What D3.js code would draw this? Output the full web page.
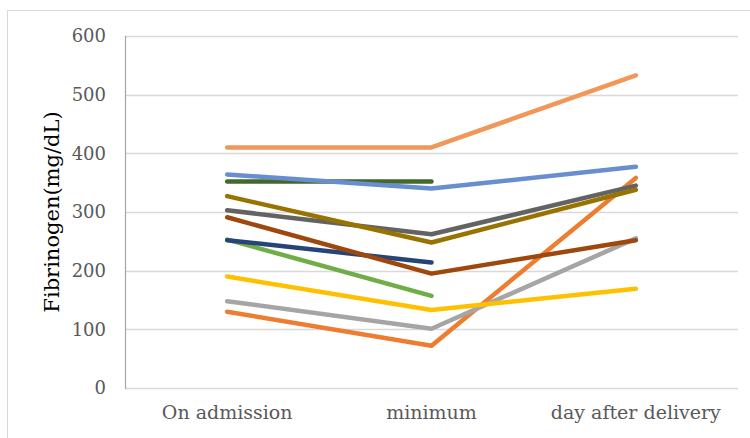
<!DOCTYPE html>
<html>
<head>
<meta charset="utf-8">
<script src="https://cdn.jsdelivr.net/npm/d3@7/dist/d3.min.js"></script>
<style>
  html, body { margin: 0; padding: 0; background: #fff; }
  svg { display: block; }
</style>
</head>
<body>
<svg id="chart" width="750" height="438"></svg>
<script>
// Time points on the x axis
const categories = ["On admission", "minimum", "day after delivery"];

// Fibrinogen per patient (mg/dL); null = not measured
const patient1  = [130, 72, 358];
const patient2  = [148, 101, 255];
const patient3  = [190, 133, 169];
const patient4  = [253, 157, null];
const patient5  = [252, 214, null];
const patient6  = [291, 195, 252];
const patient7  = [303, 262, 345];
const patient8  = [327, 248, 338];
const patient9  = [352, 352, null];
const patient10 = [364, 340, 377];
const patient11 = [410, 410, 533];

const yTicks = [0, 100, 200, 300, 400, 500, 600];

const series = [
  { values: patient1,  color: "#ED7D31" },
  { values: patient2,  color: "#A5A5A5" },
  { values: patient3,  color: "#FFC000" },
  { values: patient4,  color: "#70AD47" },
  { values: patient5,  color: "#264478" },
  { values: patient6,  color: "#9E480E" },
  { values: patient7,  color: "#636363" },
  { values: patient8,  color: "#997300" },
  { values: patient9,  color: "#43682B" },
  { values: patient10, color: "#698ED0" },
  { values: patient11, color: "#F1975A" }
];

const svg = d3.select("#chart");

// outer chart frame
svg.append("rect")
  .attr("x", 7.5).attr("y", 10.5)
  .attr("width", 760).attr("height", 450)
  .attr("fill", "#fff").attr("stroke", "#d9d9d9").attr("stroke-width", 1);

const plot = { left: 125, right: 738, top: 36, bottom: 388 };

const x = d3.scaleBand().domain(categories).range([plot.left, plot.right]);
const y = d3.scaleLinear().domain([0, 600]).range([plot.bottom, plot.top]);

// horizontal gridlines
svg.append("g")
  .selectAll("line")
  .data(yTicks)
  .join("line")
  .attr("x1", plot.left).attr("x2", plot.right)
  .attr("y1", d => Math.round(y(d)) + 0.5).attr("y2", d => Math.round(y(d)) + 0.5)
  .attr("stroke", "#d9d9d9").attr("stroke-width", 1.5);

// left axis line
svg.append("line")
  .attr("x1", plot.left + 0.5).attr("x2", plot.left + 0.5)
  .attr("y1", plot.top).attr("y2", plot.bottom + 1)
  .attr("stroke", "#a6a6a6").attr("stroke-width", 1.2);

// y tick labels
const yAxis = d3.axisLeft(y).tickValues(yTicks).tickSize(0).tickPadding(19);
const gy = svg.append("g").attr("transform", `translate(${plot.left},0)`).call(yAxis);
gy.select(".domain").remove();
gy.selectAll("text")
  .attr("font-family", "'DejaVu Serif', serif")
  .attr("font-size", 18)
  .attr("fill", "#595959");

// x category labels
const xAxis = d3.axisBottom(x).tickSize(0).tickPadding(18);
const gx = svg.append("g").attr("transform", `translate(0,${plot.bottom})`).call(xAxis);
gx.select(".domain").remove();
gx.selectAll("text")
  .attr("font-family", "'DejaVu Serif', serif")
  .attr("font-size", 19)
  .attr("fill", "#595959");

// y axis title
svg.append("text")
  .attr("transform", `translate(52,${(plot.top + plot.bottom) / 2}) rotate(-90)`)
  .attr("text-anchor", "middle")
  .attr("dominant-baseline", "central")
  .attr("font-family", "'DejaVu Serif', serif")
  .attr("font-size", 21)
  .attr("fill", "#000")
  .text("Fibrinogen(mg/dL)");

// patient lines
const line = d3.line()
  .defined(d => d.v !== null)
  .x(d => x(d.c) + x.bandwidth() / 2)
  .y(d => y(d.v));

svg.append("g")
  .selectAll("path")
  .data(series)
  .join("path")
  .attr("d", s => line(s.values.map((v, i) => ({ c: categories[i], v }))))
  .attr("fill", "none")
  .attr("stroke", s => s.color)
  .attr("stroke-width", 4.5)
  .attr("stroke-linecap", "round")
  .attr("stroke-linejoin", "round");
</script>
</body>
</html>
